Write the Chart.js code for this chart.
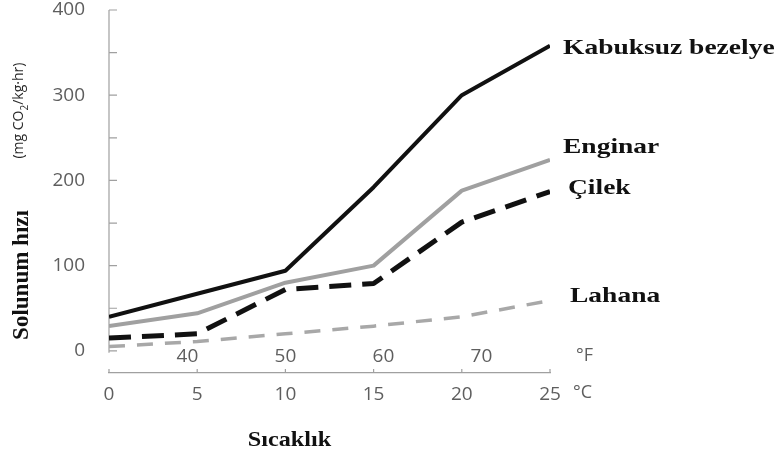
<!DOCTYPE html>
<html lang="tr">
<head>
<meta charset="utf-8">
<title>Solunum hızı ve sıcaklık</title>
<script src="https://cdn.jsdelivr.net/npm/chart.js@4.4.1/dist/chart.umd.min.js"></script>
<style>
  html, body { margin: 0; padding: 0; background: #ffffff; }
  #wrap { width: 776px; height: 461px; position: relative; }
</style>
</head>
<body>
<div id="wrap"><canvas id="c" width="776" height="461"></canvas></div>
<script>
// Sıcaklık (°C) and respiration rate (mg CO2 / kg·hr) for each product
const celsius = [0, 5, 10, 15, 20, 25];
const bezelye = [40, 67, 94, 192, 300, 358];
const enginar = [29, 44, 80, 100, 188, 224];
const cilek   = [15, 20, 72, 79, 151, 187];
const lahana  = [5, 11, 20, 29, 40, 59];

const seriesNames = ['Kabuksuz bezelye', 'Enginar', 'Çilek', 'Lahana'];
const yTicks = [0, 50, 100, 150, 200, 250, 300, 350, 400];
const fahrenheitTicks = [40, 50, 60, 70];

const pts = vals => celsius.map((c, i) => ({ x: c, y: vals[i] }));

// tag: where each end-of-line label sits relative to the last point
const datasets = [
  { label: seriesNames[0], data: pts(bezelye), borderColor: '#111111', borderWidth: 4, tag: { dx: 13, dy: 3 } },
  { label: seriesNames[1], data: pts(enginar), borderColor: '#a0a0a0', borderWidth: 4, tag: { dx: 13, dy: -13 } },
  { label: seriesNames[2], data: pts(cilek), borderColor: '#111111', borderWidth: 5, borderDash: [22, 11], tag: { dx: 18, dy: -3 } },
  { label: seriesNames[3], data: pts(lahana), borderColor: '#a8a8a8', borderWidth: 3.5, borderDash: [16, 12], tag: { dx: 20, dy: -4 } }
].map(d => Object.assign({ fill: false, pointRadius: 0, tension: 0, borderCapStyle: 'butt', borderJoinStyle: 'round' }, d));

const tickFont = { family: '"Open Sans", "Noto Sans", sans-serif', size: 19 };
const tickColor = '#5e5e5e';
const serif = '"Liberation Serif", "Times New Roman", serif';

function stretchText(ctx, text, x, y, sx) {
  ctx.save();
  ctx.translate(x, y);
  ctx.scale(sx, 1);
  ctx.fillText(text, 0, 0);
  ctx.restore();
}

const axisDecor = {
  id: 'axisDecor',
  beforeDatasetsDraw(chart) {
    const { ctx, scales: { x, y } } = chart;
    const x0 = x.getPixelForValue(0);
    ctx.save();
    ctx.strokeStyle = '#a0a0a0';
    ctx.lineWidth = 1.2;
    ctx.beginPath();
    // value axis line from 0 to 400 with inward tick marks
    ctx.moveTo(x0, y.getPixelForValue(0) + 2);
    ctx.lineTo(x0, y.getPixelForValue(400));
    yTicks.forEach(v => {
      const py = y.getPixelForValue(v);
      ctx.moveTo(x0, py);
      ctx.lineTo(x0 + 8, py);
    });
    // small upward ticks on the °C axis
    const yb = chart.chartArea.bottom;
    x.ticks.forEach(t => {
      const px = x.getPixelForValue(t.value);
      ctx.moveTo(px, yb);
      ctx.lineTo(px, yb - 4);
    });
    ctx.stroke();
    ctx.restore();
  },
  afterDraw(chart) {
    const { ctx, scales: { x, y } } = chart;
    ctx.save();
    ctx.fillStyle = '#111111';
    ctx.textBaseline = 'middle';
    ctx.textAlign = 'left';
    ctx.font = 'bold 22px ' + serif;
    // end-of-line labels
    chart.data.datasets.forEach((ds, i) => {
      const meta = chart.getDatasetMeta(i);
      const last = meta.data[meta.data.length - 1];
      stretchText(ctx, ds.label, last.x + ds.tag.dx, last.y + ds.tag.dy, 1.25);
    });

    // axis titles
    ctx.textAlign = 'center';
    stretchText(ctx, 'Sıcaklık', (x.left + x.right) / 2 - 40, 440, 1.1);

    ctx.save();
    ctx.font = 'bold 23px ' + serif;
    ctx.translate(22, y.getPixelForValue(89));
    ctx.rotate(-Math.PI / 2);
    ctx.fillText('Solunum hızı', 0, 0);
    ctx.restore();

    // unit: (mg CO2/kg·hr) with subscript 2
    ctx.save();
    ctx.translate(19, y.getPixelForValue(282));
    ctx.rotate(-Math.PI / 2);
    ctx.fillStyle = '#2a2a2a';
    const main = '14px "Open Sans", "Noto Sans", sans-serif';
    const sub = '10px "Open Sans", "Noto Sans", sans-serif';
    const a = '(mg CO', b = '2', c = '/kg·hr)';
    ctx.font = main; const wa = ctx.measureText(a).width; const wc = ctx.measureText(c).width;
    ctx.font = sub; const wb = ctx.measureText(b).width;
    let px = -(wa + wb + wc) / 2;
    ctx.textAlign = 'left';
    ctx.font = main; ctx.fillText(a, px, 0); px += wa;
    ctx.font = sub; ctx.fillText(b, px, 6); px += wb;
    ctx.font = main; ctx.fillText(c, px, 0);
    ctx.restore();

    // unit marks at the right end of the two temperature scales
    ctx.fillStyle = tickColor;
    ctx.font = '18px "Open Sans", "Noto Sans", sans-serif';
    ctx.textAlign = 'left';
    ctx.fillText('°F', x.right + 26, y.getPixelForValue(0) + 5);
    ctx.fillText('°C', x.right + 23, chart.chartArea.bottom + 20);
    ctx.restore();
  }
};

new Chart(document.getElementById('c'), {
  type: 'line',
  data: { datasets },
  options: {
    responsive: false,
    animation: false,
    devicePixelRatio: 1,
    layout: { padding: { left: 0, right: 226, top: 10, bottom: 0 } },
    plugins: { legend: { display: false }, tooltip: { enabled: false } },
    scales: {
      x: {
        type: 'linear',
        min: 0, max: 25,
        position: 'bottom',
        grid: { display: false, drawTicks: false },
        border: { display: true, color: '#a0a0a0', width: 1.2 },
        ticks: { stepSize: 5, color: tickColor, font: tickFont, padding: 10 },
        afterFit(s) { s.height = 88; s.paddingLeft = 0; s.paddingRight = 0; }
      },
      y: {
        type: 'linear',
        min: -26, max: 400,
        grid: { display: false, drawTicks: false },
        border: { display: false },
        afterBuildTicks(s) { s.ticks = yTicks.map(v => ({ value: v })); },
        ticks: {
          color: tickColor, font: tickFont, padding: 24,
          callback: v => (v % 100 === 0 ? String(v) : '')
        },
        afterFit(s) { s.width = 109; s.paddingTop = 0; s.paddingBottom = 0; }
      },
      f: {
        type: 'linear',
        axis: 'x',
        min: 32, max: 77,
        position: { y: 0 },
        grid: { display: false, drawTicks: false },
        border: { display: false },
        afterBuildTicks(s) { s.ticks = fahrenheitTicks.map(v => ({ value: v })); },
        ticks: { color: tickColor, font: tickFont, padding: -6 }
      }
    }
  },
  plugins: [axisDecor]
});
</script>
</body>
</html>
